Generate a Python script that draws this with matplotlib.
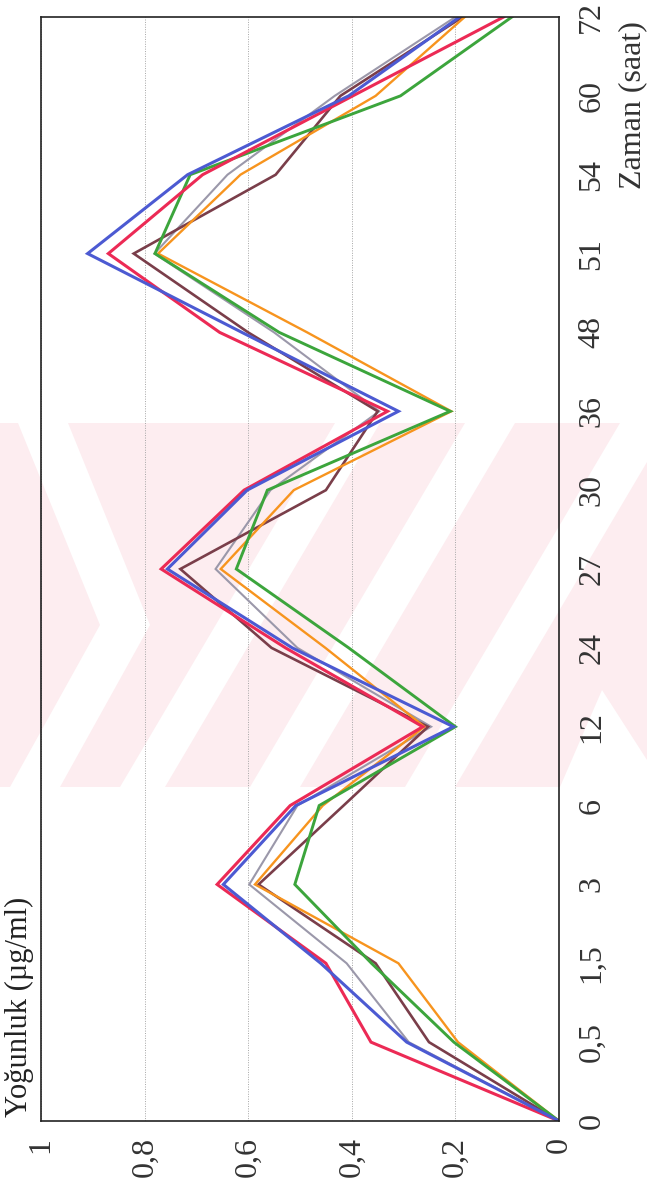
import matplotlib
matplotlib.use("Agg")
import matplotlib.pyplot as plt
from matplotlib.patches import Polygon

# ---- data ----
categories = ["0", "0,5", "1,5", "3", "6", "12", "24", "27", "30", "36", "48", "51", "54", "60", "72"]
value_ticks = [0, 0.2, 0.4, 0.6, 0.8, 1.0]
value_tick_labels = ["0", "0,2", "0,4", "0,6", "0,8", "1"]

grey   = [0, 0.290, 0.410, 0.598, 0.505, 0.247, 0.505, 0.663, 0.557, 0.347, 0.550, 0.781, 0.640, 0.433, 0.200]
brown  = [0, 0.251, 0.354, 0.580, 0.416, 0.253, 0.555, 0.731, 0.450, 0.350, 0.600, 0.821, 0.547, 0.422, 0.186]
orange = [0, 0.195, 0.310, 0.587, 0.456, 0.260, 0.451, 0.653, 0.512, 0.208, 0.486, 0.774, 0.615, 0.354, 0.182]
green  = [0, 0.203, 0.362, 0.510, 0.463, 0.200, 0.406, 0.623, 0.563, 0.210, 0.540, 0.780, 0.712, 0.306, 0.091]
red    = [0, 0.363, 0.450, 0.660, 0.519, 0.263, 0.528, 0.768, 0.608, 0.331, 0.655, 0.870, 0.688, 0.398, 0.107]
blue   = [0, 0.294, 0.460, 0.648, 0.508, 0.204, 0.515, 0.756, 0.602, 0.310, 0.612, 0.910, 0.717, 0.406, 0.192]

series = [
    (grey,   "#9b98aa", 1.5),
    (brown,  "#7a3e4a", 1.9),
    (orange, "#f7941e", 1.7),
    (green,  "#3ca53c", 2.1),
    (red,    "#ec2a55", 2.2),
    (blue,   "#4c5ad2", 2.2),
]

W, H = 647, 1190
fig = plt.figure(figsize=(W / 100, H / 100), dpi=100)
fig.patch.set_facecolor("white")

# ---- background watermark (scanner stamp), pixel coordinates ----
bg = fig.add_axes([0, 0, 1, 1], zorder=0)
bg.set_xlim(0, W)
bg.set_ylim(H, 0)
bg.axis("off")
pink = "#fdedf0"
bg.add_patch(Polygon([(0, 423), (W, 423), (W, 787), (0, 787)], closed=True,
                     facecolor=pink, edgecolor="none"))
white_polys = [
    [(18, 423), (68, 423), (150, 625), (60, 787), (10, 787), (100, 625)],
    [(120, 787), (165, 787), (380, 423), (335, 423)],
    [(250, 787), (300, 787), (515, 423), (465, 423)],
    [(405, 787), (455, 787), (647, 462), (647, 423), (620, 423)],
    [(560, 787), (602, 690), (647, 760), (647, 787)],
]
for p in white_polys:
    bg.add_patch(Polygon(p, closed=True, facecolor="white", edgecolor="none"))

# ---- main chart (rotated orientation) ----
left, right, top, bottom = 41, 559, 17, 1121
ax = fig.add_axes([left / W, 1 - bottom / H, (right - left) / W, (bottom - top) / H], zorder=1)
ax.set_facecolor("none")

idx = list(range(len(categories)))
for vals, col, lw in series:
    ax.plot(vals, idx, color=col, lw=lw, solid_joinstyle="miter")

ax.set_xlim(1, 0)
ax.set_ylim(0, len(categories) - 1)

for s in ax.spines.values():
    s.set_color("#222222")
    s.set_linewidth(1.2)

serif = ["Liberation Serif", "DejaVu Serif"]

ax.set_xticks(value_ticks)
ax.set_xticklabels(value_tick_labels, family=serif, fontsize=23, color="#333333")
ax.tick_params(axis="x", length=0, pad=11.5)
for lab in ax.get_xticklabels():
    lab.set_rotation(90)
    lab.set_rotation_mode("anchor")
    lab.set_ha("right")
    lab.set_va("center")
ax.xaxis.grid(True, linestyle=(0, (1, 1.5)), color="#a5a5a5", lw=0.7)

ax.set_yticks(idx)
ax.set_yticklabels(categories, family=serif, fontsize=23, color="#333333")
ax.tick_params(axis="y", length=0, left=False, right=False, labelleft=False, labelright=True, pad=29)
for lab in ax.get_yticklabels():
    lab.set_rotation(90)
    lab.set_rotation_mode("anchor")
    lab.set_ha("center")
    lab.set_va("baseline")

fig.text(640 / W, 1 - 105 / H, "Zaman (saat)", rotation=90, rotation_mode="anchor",
         ha="center", va="baseline", family=serif, fontsize=23, color="#333333")
fig.text(27 / W, 1 - 1117 / H, "Yoğunluk (µg/ml)", rotation=90, rotation_mode="anchor",
         ha="left", va="baseline", family=serif, fontsize=22, color="#222222")

fig.savefig("out.png", dpi=100)
